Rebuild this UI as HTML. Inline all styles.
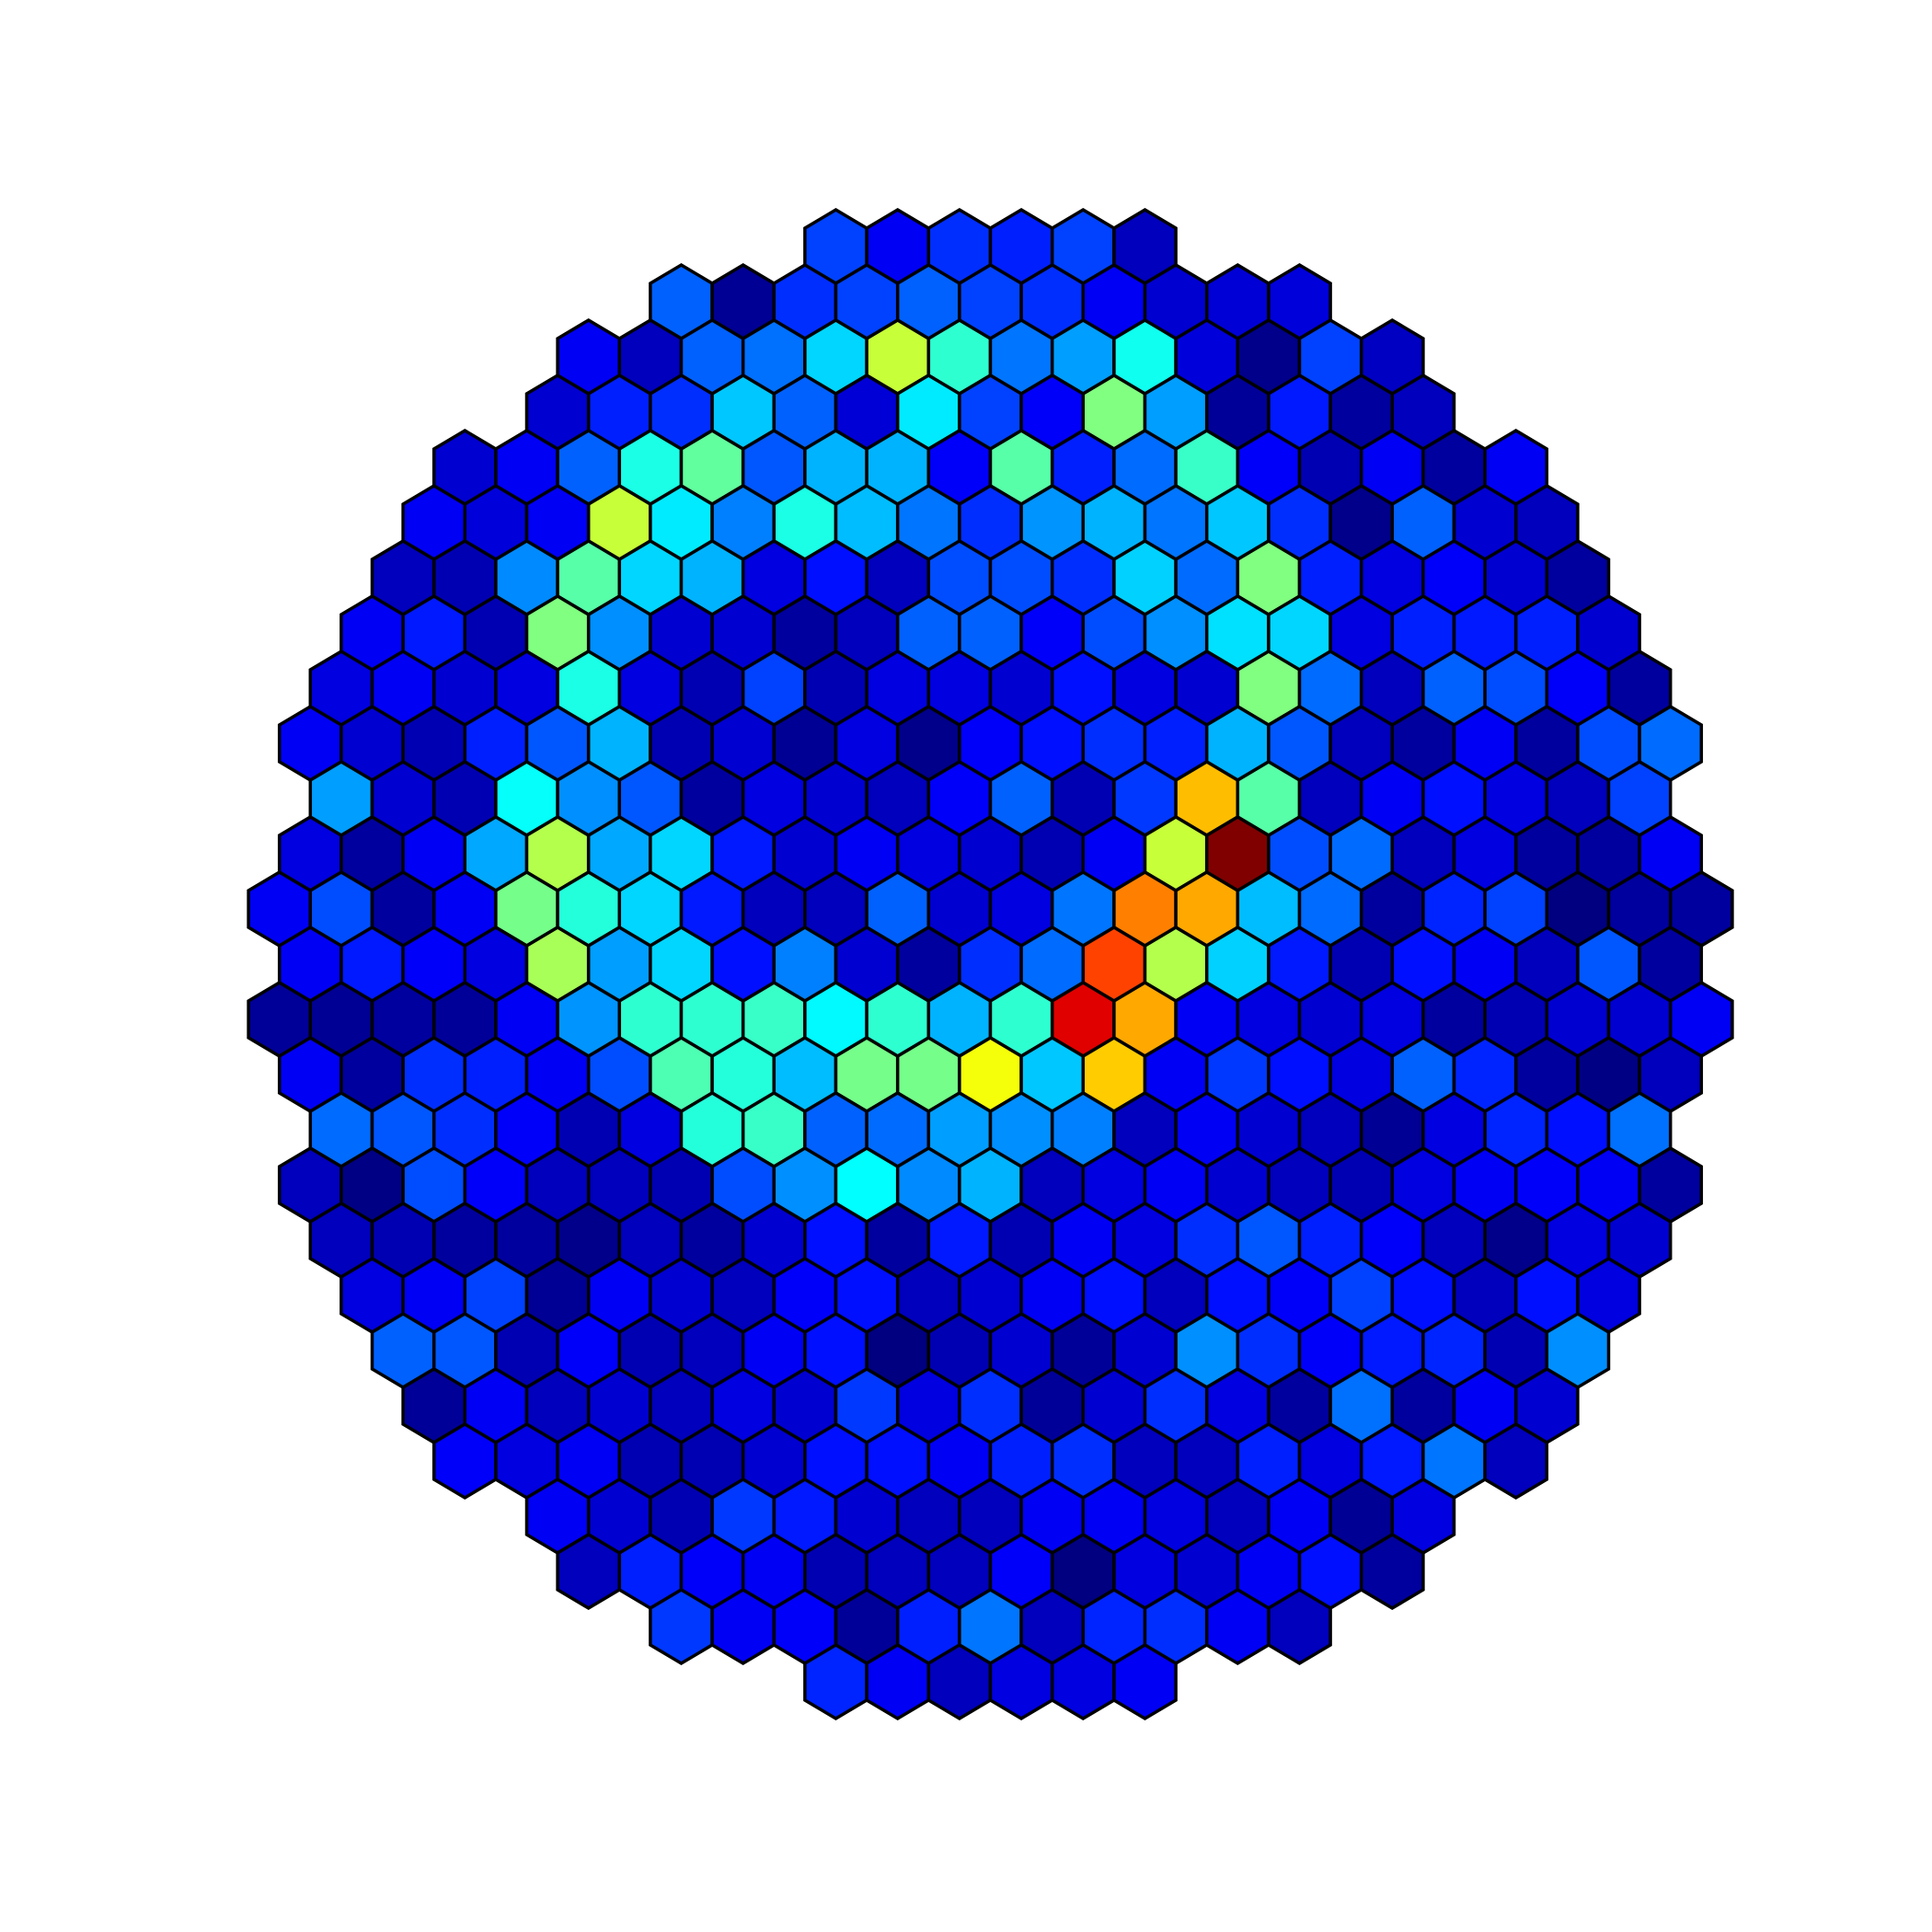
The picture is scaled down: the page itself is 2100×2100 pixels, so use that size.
<!DOCTYPE html>
<html>
<head>
<meta charset="utf-8">
<style>
  html, body { margin: 0; padding: 0; background: #ffffff; }
  body { width: 2100px; height: 2100px; overflow: hidden; font-family: "Liberation Sans", sans-serif; }
  svg { display: block; }
</style>
</head>
<body>
<svg id="chart" width="2100" height="2100" viewBox="0 0 2100 2100" xmlns="http://www.w3.org/2000/svg">
  <rect x="0" y="0" width="2100" height="2100" fill="#ffffff"/>
  <g id="cells"></g>
</svg>
<script>
// first column index in each row
const rowStart = [9,6,5,4,3,2,2,1,1,0,1,0,0,0,0,0,1,0,1,1,2,2,3,4,5,6,9];
// cell values per row (0..1 on the jet colour scale)
const row00 = [.19,.115,.17,.155,.19,.06];
const row01 = [.22,.02,.17,.19,.22,.19,.17,.115,.08,.085,.09];
const row02 = [.115,.06,.22,.235,.335,.57,.42,.24,.28,.39,.09,.01,.19,.065];
const row03 = [.08,.155,.17,.32,.22,.085,.355,.19,.12,.5,.28,.025,.15,.03,.06];
const row04 = [.08,.115,.22,.4,.47,.21,.3,.3,.12,.46,.155,.23,.43,.12,.05,.115,.03,.115];
const row05 = [.115,.09,.115,.57,.355,.25,.4,.31,.24,.17,.27,.3,.24,.32,.17,.01,.22,.08,.06];
const row06 = [.06,.05,.26,.46,.335,.3,.095,.14,.06,.2,.2,.17,.33,.23,.5,.155,.095,.12,.08,.03];
const row07 = [.115,.15,.05,.5,.265,.08,.08,.03,.06,.22,.22,.12,.2,.265,.345,.335,.095,.155,.15,.155,.08];
const row08 = [.095,.115,.08,.095,.4,.095,.05,.19,.05,.095,.095,.08,.14,.095,.08,.5,.23,.06,.22,.2,.12,.03];
const row09 = [.115,.08,.05,.155,.21,.3,.05,.08,.02,.095,.01,.12,.14,.17,.155,.3,.21,.06,.03,.115,.03,.2,.23];
const row10 = [.28,.08,.05,.38,.265,.21,.03,.095,.08,.06,.12,.22,.05,.18,.69,.46,.06,.115,.14,.095,.06,.19];
const row11 = [.095,.03,.115,.29,.55,.29,.335,.15,.08,.115,.095,.08,.05,.115,.57,1.0,.2,.23,.06,.095,.03,.03,.115];
const row12 = [.115,.2,.03,.115,.49,.41,.335,.15,.06,.06,.22,.08,.095,.24,.75,.71,.31,.23,.03,.16,.19,0,.03,.03];
const row13 = [.115,.15,.12,.095,.54,.28,.335,.14,.25,.08,.03,.17,.23,.81,.55,.33,.15,.05,.14,.115,.06,.21,.03];
const row14 = [.025,.02,.03,.025,.115,.27,.42,.42,.43,.37,.42,.3,.42,.905,.71,.115,.095,.08,.095,.03,.05,.08,.08,.115];
const row15 = [.115,.03,.17,.155,.115,.2,.45,.41,.31,.49,.49,.615,.32,.675,.115,.18,.14,.095,.22,.16,.03,.005,.06];
const row16 = [.23,.21,.17,.12,.05,.095,.41,.43,.22,.23,.28,.265,.25,.06,.115,.08,.06,.02,.095,.16,.14,.235];
const row17 = [.06,.005,.2,.12,.06,.06,.05,.2,.265,.375,.26,.3,.06,.095,.115,.08,.06,.05,.095,.115,.12,.115,.03];
const row18 = [.06,.05,.03,.03,.01,.06,.03,.08,.14,.03,.15,.05,.115,.095,.17,.21,.155,.12,.06,.01,.095,.08];
const row19 = [.095,.115,.19,.02,.115,.08,.06,.12,.14,.06,.08,.115,.14,.06,.14,.12,.19,.14,.06,.14,.095];
const row20 = [.22,.21,.05,.12,.05,.06,.115,.14,0,.05,.08,.025,.08,.265,.17,.12,.15,.16,.05,.265];
const row21 = [.025,.115,.06,.08,.06,.095,.08,.18,.095,.17,.025,.08,.17,.095,.03,.235,.03,.115,.08];
const row22 = [.12,.095,.115,.05,.05,.08,.14,.14,.115,.155,.17,.06,.06,.155,.095,.15,.24,.06];
const row23 = [.115,.08,.05,.18,.15,.08,.06,.06,.115,.115,.095,.06,.115,.02,.095];
const row24 = [.06,.155,.12,.115,.05,.06,.06,.12,0,.095,.08,.115,.14,.03];
const row25 = [.18,.115,.12,.025,.155,.24,.06,.16,.17,.115,.06];
const row26 = [.16,.115,.06,.095,.095,.115];
const rows = [row00,row01,row02,row03,row04,row05,row06,row07,row08,row09,row10,row11,row12,row13,
              row14,row15,row16,row17,row18,row19,row20,row21,row22,row23,row24,row25,row26];

// grid geometry (axis functions)
const X0 = 303.7, DX = 67.2, Y0 = 268, DY = 60, HW = 33.6, HV = 40, HE = 20;
function xPos(r, i) { return X0 + DX * i + (r % 2 ? DX / 2 : 0); }
function yPos(r) { return Y0 + DY * r; }

function clamp(v) { return Math.max(0, Math.min(1, v)); }
function jet(v) {
  v = clamp(v);
  const r = clamp(Math.min(4 * v - 1.5, -4 * v + 4.5));
  const g = clamp(Math.min(4 * v - 0.5, -4 * v + 3.5));
  const b = clamp(Math.min(4 * v + 0.5, -4 * v + 2.5));
  return 'rgb(' + Math.round(r * 255) + ',' + Math.round(g * 255) + ',' + Math.round(b * 255) + ')';
}

const NS = 'http://www.w3.org/2000/svg';
const g = document.getElementById('cells');
rows.forEach(function (vals, r) {
  vals.forEach(function (v, k) {
    const i = rowStart[r] + k;
    const cx = xPos(r, i), cy = yPos(r);
    const pts = [
      [cx, cy - HV], [cx + HW, cy - HE], [cx + HW, cy + HE],
      [cx, cy + HV], [cx - HW, cy + HE], [cx - HW, cy - HE]
    ].map(function (p) { return p[0].toFixed(1) + ',' + p[1].toFixed(1); }).join(' ');
    const poly = document.createElementNS(NS, 'polygon');
    poly.setAttribute('points', pts);
    poly.setAttribute('fill', jet(v));
    poly.setAttribute('stroke', '#000000');
    poly.setAttribute('stroke-width', '3.5');
    poly.setAttribute('stroke-linejoin', 'miter');
    
    
    g.appendChild(poly);
  });
});
</script>
</body>
</html>
